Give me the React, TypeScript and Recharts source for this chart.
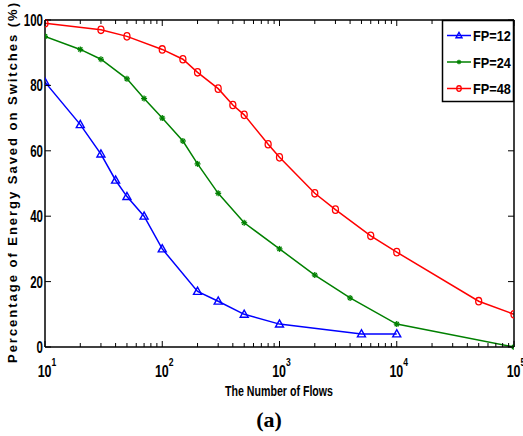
import React from 'react';
import { LineChart, Line, XAxis, YAxis } from 'recharts';

// values
const FP12_FLOWS = [10, 20, 30, 40, 50, 70, 100, 200, 300, 500, 1000, 5000, 10000];
const FP12_SAVED = [81, 68, 59, 51, 46, 40, 30, 17, 14, 10, 7, 4, 4];

const FP24_FLOWS = [10, 20, 30, 50, 70, 100, 150, 200, 300, 500, 1000, 2000, 4000, 10000, 100000];
const FP24_SAVED = [95, 91, 88, 82, 76, 70, 63, 56, 47, 38, 30, 22, 15, 7, 0];

const FP48_FLOWS = [10, 30, 50, 100, 150, 200, 300, 400, 500, 800, 1000, 2000, 3000, 6000, 10000, 50000, 100000];
const FP48_SAVED = [99, 97, 95, 91, 88, 84, 79, 74, 71, 62, 58, 47, 42, 34, 29, 14, 10];

const FLOW_TICKS = [
  10, 20, 30, 40, 50, 60, 70, 80, 90,
  100, 200, 300, 400, 500, 600, 700, 800, 900,
  1000, 2000, 3000, 4000, 5000, 6000, 7000, 8000, 9000,
  10000, 20000, 30000, 40000, 50000, 60000, 70000, 80000, 90000,
  100000,
];
const SAVED_TICKS = [0, 20, 40, 60, 80, 100];

const SANS = "'Liberation Sans', Arial, Helvetica, sans-serif";

const toRows = (xs: number[], ys: number[]) => xs.map((x, i) => ({ x, y: ys[i] }));

const SERIES = [
  { name: 'FP=12', color: '#0000ff', marker: 'triangle', data: toRows(FP12_FLOWS, FP12_SAVED) },
  { name: 'FP=24', color: '#008000', marker: 'star', data: toRows(FP24_FLOWS, FP24_SAVED) },
  { name: 'FP=48', color: '#ff0000', marker: 'circle', data: toRows(FP48_FLOWS, FP48_SAVED) },
];

// bold text squeezed horizontally, to look like the condensed Helvetica of the figure
function Narrow({ x, y, anchor = 'start', size = 16, sx = 0.75, children }: any) {
  return (
    <text
      transform={`translate(${x},${y}) scale(${sx},1)`}
      textAnchor={anchor} fontFamily={SANS} fontWeight="bold" fontSize={size} fill="#000"
    >
      {children}
    </text>
  );
}

function Marker({ cx, cy, kind, color, s = 1 }: any) {
  if (cx == null || cy == null) return null;
  if (kind === 'triangle') {
    const w = 4 * s, h = 4.2 * s;
    return (
      <polygon
        points={`${cx},${cy - h} ${cx - w},${cy + h * 0.7} ${cx + w},${cy + h * 0.7}`}
        fill="none" stroke={color} strokeWidth={1.4}
      />
    );
  }
  if (kind === 'circle') {
    return <ellipse cx={cx} cy={cy} rx={3 * s} ry={3.7 * s} fill="none" stroke={color} strokeWidth={1.3} />;
  }
  const r = 3 * s, d = r * 0.7;
  return (
    <g stroke={color} strokeWidth={1.3}>
      <line x1={cx - r} x2={cx + r} y1={cy} y2={cy} />
      <line x1={cx} x2={cx} y1={cy - r} y2={cy + r} />
      <line x1={cx - d} x2={cx + d} y1={cy - d} y2={cy + d} />
      <line x1={cx - d} x2={cx + d} y1={cy + d} y2={cy - d} />
    </g>
  );
}

function FlowTick({ x, y, payload, side }: any) {
  const v = payload.value;
  const lg = Math.log10(v);
  const exp = Math.round(lg);
  const major = Math.abs(lg - exp) < 1e-9;
  const dir = side === 'bottom' ? -1 : 1;
  return (
    <g>
      <line x1={x} x2={x} y1={y} y2={y + dir * (major ? 6 : 4)} stroke="#000" strokeWidth={1} />
      {side === 'bottom' && major && (
        <Narrow x={x + 2} y={y + 30} anchor="middle" size={16} sx={0.78}>
          <tspan>10</tspan>
          <tspan dy={-11} fontSize={11}>{exp}</tspan>
        </Narrow>
      )}
    </g>
  );
}

function SavedTick({ x, y, payload, side }: any) {
  const dir = side === 'left' ? 1 : -1;
  return (
    <g>
      <line x1={x} x2={x + dir * 6} y1={y} y2={y} stroke="#000" strokeWidth={1} />
      {side === 'left' && (
        <Narrow x={x - 2} y={y + 6} anchor="end" size={16} sx={0.72}>
          {payload.value}
        </Narrow>
      )}
    </g>
  );
}

export default function App() {
  return (
    <div style={{ position: 'absolute', left: 0, top: 0, width: 523, height: 436, background: '#fff' }}>
      <LineChart width={523} height={436} margin={{ top: 19, right: 8, bottom: 58, left: 5 }}>
        <XAxis
          xAxisId="b" dataKey="x" type="number" scale="log" domain={[10, 100000]} allowDataOverflow
          ticks={FLOW_TICKS} interval={0} height={31} tickSize={0} tickMargin={0}
          axisLine={{ stroke: '#000', strokeWidth: 1.5 }}
          tick={(p: any) => <FlowTick {...p} side="bottom" />}
        />
        <XAxis
          xAxisId="t" orientation="top" dataKey="x" type="number" scale="log" domain={[10, 100000]} allowDataOverflow
          ticks={FLOW_TICKS} interval={0} height={1} tickSize={0} tickMargin={0}
          axisLine={{ stroke: '#000', strokeWidth: 1.5 }}
          tick={(p: any) => <FlowTick {...p} side="top" />}
        />
        <YAxis
          yAxisId="l" type="number" domain={[0, 100]} ticks={SAVED_TICKS} interval={0} width={40}
          tickSize={0} tickMargin={0} axisLine={{ stroke: '#000', strokeWidth: 1.5 }}
          tick={(p: any) => <SavedTick {...p} side="left" />}
        />
        <YAxis
          yAxisId="r" orientation="right" type="number" domain={[0, 100]} ticks={SAVED_TICKS} interval={0} width={1}
          tickSize={0} tickMargin={0} axisLine={{ stroke: '#000', strokeWidth: 1.5 }}
          tick={(p: any) => <SavedTick {...p} side="right" />}
        />
        {/* invisible series so the top and right frame axes get drawn */}
        <Line
          xAxisId="t" yAxisId="r" data={SERIES[0].data} dataKey="y" stroke="none"
          dot={false} activeDot={false} legendType="none" isAnimationActive={false}
        />
        {SERIES.map((s) => (
          <Line
            key={s.name}
            xAxisId="b"
            yAxisId="l"
            data={s.data}
            dataKey="y"
            name={s.name}
            stroke={s.color}
            strokeWidth={1.5}
            isAnimationActive={false}
            dot={(p: any) => <Marker key={`${s.name}-${p.index}`} cx={p.cx} cy={p.cy} kind={s.marker} color={s.color} />}
            activeDot={false}
          />
        ))}
      </LineChart>

      <svg width={523} height={436} style={{ position: 'absolute', left: 0, top: 0, pointerEvents: 'none' }}>
        {/* legend box, top right inside the frame */}
        <rect x={442.5} y={20.5} width={71} height={81} fill="#fff" stroke="#000" strokeWidth={1.5} />
        {SERIES.map((s, i) => {
          const cy = 35.5 + i * 26.5;
          return (
            <g key={s.name}>
              <line x1={447} x2={471} y1={cy} y2={cy} stroke={s.color} strokeWidth={1.5} />
              <Marker cx={459} cy={cy} kind={s.marker} color={s.color} s={0.75} />
              <Narrow x={473} y={cy + 5.5} size={15} sx={0.85}>{s.name}</Narrow>
            </g>
          );
        })}

        <text
          transform="translate(17,183) rotate(-90)" textAnchor="middle" textLength={360} lengthAdjust="spacing"
          fontFamily={SANS} fontWeight="bold" fontSize={13} fill="#000"
        >
          Percentage of Energy Saved on Switches (%)
        </text>
        <text
          x={279} y={396} textAnchor="middle" textLength={108} lengthAdjust="spacingAndGlyphs"
          fontFamily={SANS} fontWeight="bold" fontSize={15} fill="#000"
        >
          The Number of Flows
        </text>
        <text x={269} y={427} textAnchor="middle" fontFamily="'Liberation Serif', 'Times New Roman', serif" fontWeight="bold" fontSize={22} fill="#000">
          (a)
        </text>
      </svg>
    </div>
  );
}
